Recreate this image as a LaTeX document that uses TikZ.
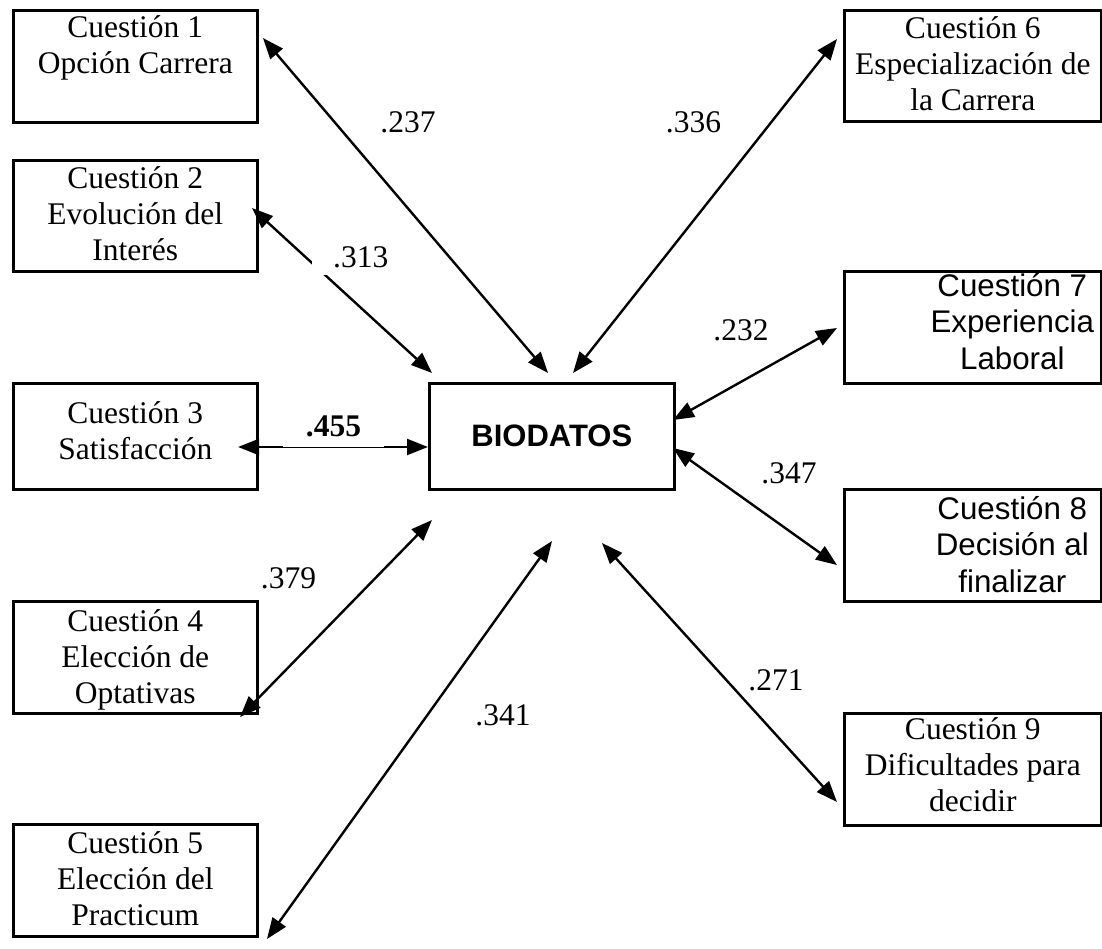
\documentclass[tikz,border=0pt]{standalone}
\usepackage{fontspec}
\setmainfont{Liberation Serif}
\newfontfamily\arialf{Liberation Sans}
\usetikzlibrary{arrows.meta}
\newcommand\qbox[4]{\parbox[t][#2][t]{#1}{\centering\rule{0pt}{#3}#4}}
\newcommand\qboxr[4]{\parbox[t][#2][t]{#1}{\centering\leftskip=79pt plus 1fil\rule{0pt}{#3}#4}}
\begin{document}
\begin{tikzpicture}[x=1pt,y=-1pt,
  bx/.style={draw, line width=2.6pt, inner sep=0pt, anchor=north west, font=\fontsize{31.5}{36}\selectfont},
  lbl/.style={inner sep=0pt, anchor=base, font=\fontsize{31.5}{36}\selectfont},
  link/.style={line width=2.4pt, {Triangle[length=21pt,width=16pt]}-{Triangle[length=21pt,width=16pt]}}]
\useasboundingbox (0,0) rectangle (1102,949);
% boxes
\node[bx] (q1) at (12,9) {\qbox{244pt}{112pt}{27pt}{Cuestión 1\\Opción Carrera}};
\node[bx] (q2) at (12,159) {\qbox{244pt}{111pt}{28pt}{Cuestión 2\\Evolución del\\Interés}};
\node[bx] (q3) at (12,382) {\qbox{244pt}{106pt}{40pt}{Cuestión 3\\Satisfacción}};
\node[bx] (q4) at (12,600) {\qbox{244pt}{112pt}{30pt}{Cuestión 4\\Elección de\\Optativas}};
\node[bx] (q5) at (12,823) {\qbox{244pt}{112pt}{29pt}{Cuestión 5\\Elección del\\Practicum}};
\node[bx] (q6) at (843,9) {\qbox{257pt}{111pt}{28pt}{Cuestión 6\\Especialización de\\la Carrera}};
\node[bx, font=\arialf\fontsize{31.3}{36.5}\selectfont] (q7) at (843,270) {\qboxr{257pt}{112pt}{25pt}{Cuestión 7\\Experiencia\\Laboral}};
\node[bx, font=\arialf\fontsize{31.3}{36.5}\selectfont] (q8) at (843,488) {\qboxr{257pt}{112pt}{30pt}{Cuestión 8\\Decisión al\\finalizar}};
\node[bx] (q9) at (843,712) {\qbox{257pt}{112pt}{26pt}{Cuestión 9\\Dificultades para\\decidir}};
\node[draw, line width=2.6pt, minimum width=245pt, minimum height=106pt, anchor=north west, font=\arialf\bfseries\fontsize{31}{36}\selectfont] (bio) at (428,382) {BIODATOS};
% connector ends
\coordinate (a1s) at (263,38);  \coordinate (a1e) at (548,373);
\coordinate (a2s) at (252,208); \coordinate (a2e) at (432,373);
\coordinate (a3s) at (238,447); \coordinate (a3e) at (428,447);
\coordinate (a4s) at (240,717); \coordinate (a4e) at (432,520);
\coordinate (a5s) at (267,939); \coordinate (a5e) at (552,541);
\coordinate (a6s) at (837,39);  \coordinate (a6e) at (573,373);
\coordinate (a7s) at (837,328); \coordinate (a7e) at (673,420);
\coordinate (a8s) at (837,565); \coordinate (a8e) at (673,448);
\coordinate (a9s) at (837,802); \coordinate (a9e) at (602,543);
\draw[link] (a1s) -- (a1e);
\draw[link] (a2s) -- (a2e);
\draw[link] (a3s) -- (a3e);
\draw[link] (a4s) -- (a4e);
\draw[link] (a5s) -- (a5e);
\draw[link] (a6s) -- (a6e);
\draw[link] (a7s) -- (a7e);
\draw[link] (a8s) -- (a8e);
\draw[link] (a9s) -- (a9e);
% labels
\node[lbl] (l1) at (408,133) {.237};
\node[lbl, fill=white, anchor=base west, text depth=7pt] (l2) at (312,268) {\hspace*{21pt}.313};
\node[lbl, fill=white, anchor=south, inner xsep=23pt, text depth=10pt, font=\fontsize{31.5}{36}\selectfont\bfseries] (l3) at (333.5,447) {.455};
\node[lbl] (l4) at (288.5,588) {.379};
\node[lbl] (l5) at (503,725) {.341};
\node[lbl] (l6) at (693.5,133) {.336};
\node[lbl] (l7) at (741,340) {.232};
\node[lbl] (l8) at (789,483) {.347};
\node[lbl] (l9) at (776,690) {.271};
\end{tikzpicture}
\end{document}
